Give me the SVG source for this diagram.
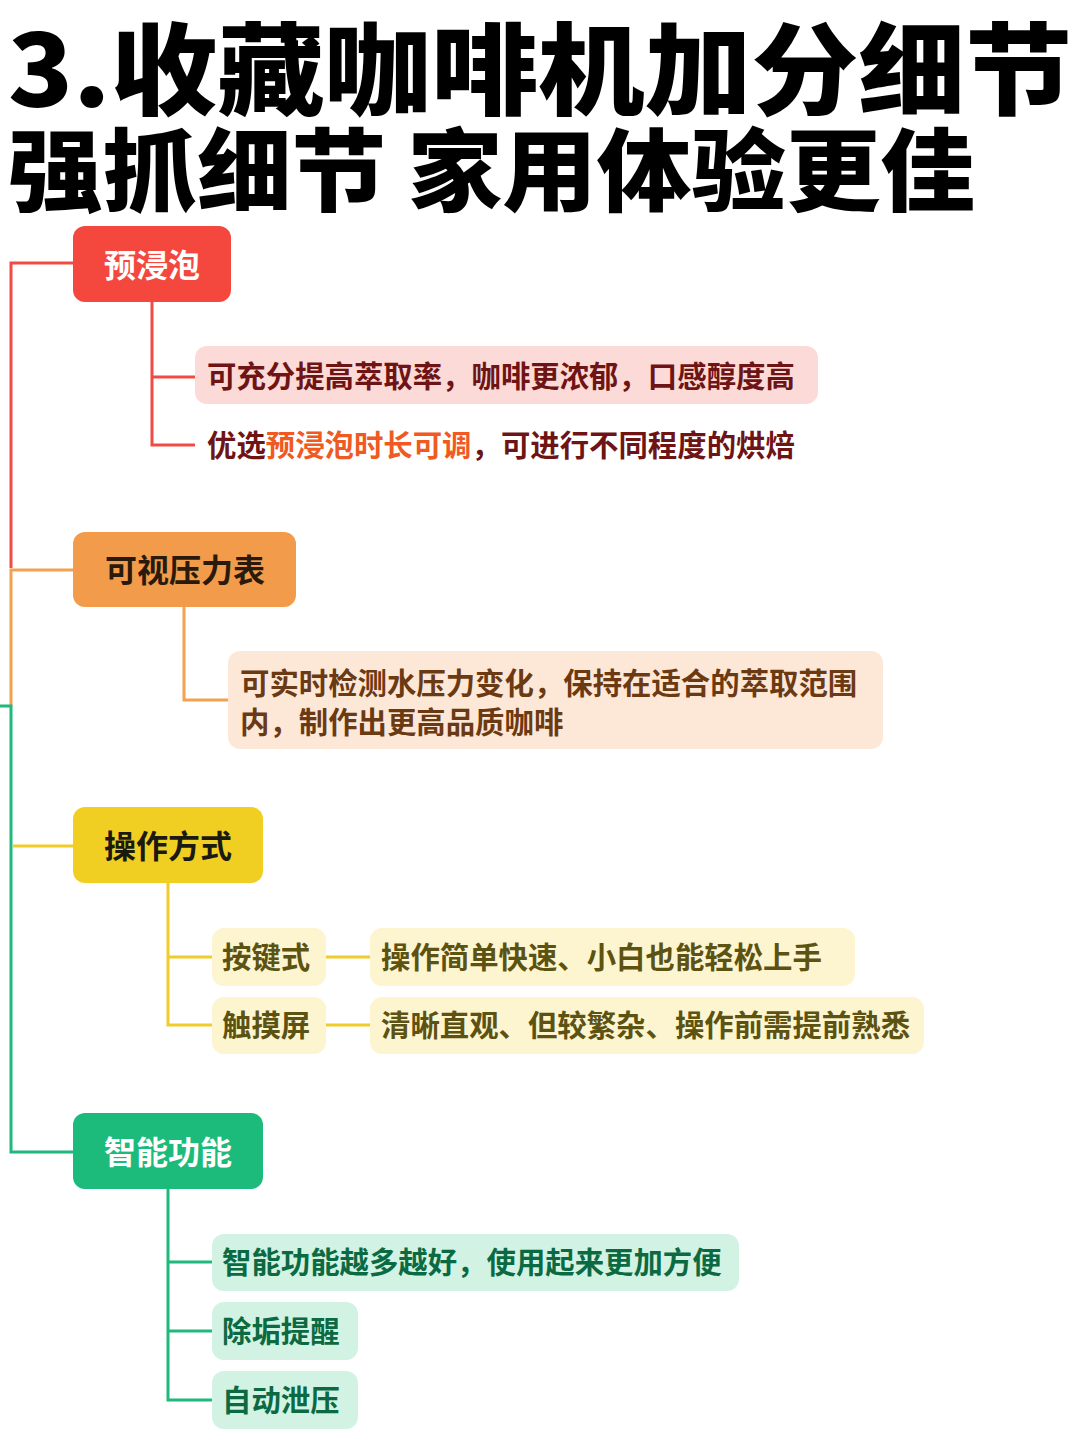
<svg xmlns="http://www.w3.org/2000/svg" width="1080" height="1440" viewBox="0 0 1080 1440">
<style>
text{font-family:"Noto Sans CJK SC","Noto Sans",sans-serif;font-weight:700}
.title{font-weight:900;fill:#000}
.node{font-size:32px}
.sub{font-size:29.4px}
.ln{fill:none;stroke-width:3}
.r{stroke:#f04c45}.o{stroke:#f2a150}.y{stroke:#f0cc2a}.g{stroke:#1fb97c}
</style>
<rect width="1080" height="1440" fill="#ffffff"/>
<g id="title">
<text class="title" x="8" y="107" font-size="100" textLength="1064" lengthAdjust="spacingAndGlyphs">3.收藏咖啡机加分细节</text>
<text class="title" x="8" y="204" font-size="90" textLength="967" lengthAdjust="spacingAndGlyphs">强抓细节 家用体验更佳</text>
</g>
<g id="connectors">
<path class="ln r" d="M73,263 H11 V568"/>
<path class="ln o" d="M73,570 H11 V706"/>
<path class="ln g" d="M0,706 H11 V1152 H73"/>
<path class="ln y" d="M13,846 H73"/>
<path class="ln r" d="M152,302 V445 H195 M152,377 H195"/>
<path class="ln o" d="M184,607 V700 H228"/>
<path class="ln y" d="M168,883 V1025 H212 M168,957 H212 M326,957 H370 M326,1025 H370"/>
<path class="ln g" d="M168,1189 V1400 H212 M168,1262 H212 M168,1331 H212"/>
</g>
<g id="n-preinfusion">
<rect x="73" y="226" width="158" height="76" rx="12" fill="#f4473d"/>
<text class="node" x="152" y="277" text-anchor="middle" fill="#ffffff">预浸泡</text>
</g>
<g id="n-preinfusion-1">
<rect x="195" y="346" width="623" height="58" rx="12" fill="#fcdad7"/>
<text class="sub" x="207" y="387" fill="#6e1414">可充分提高萃取率，咖啡更浓郁，口感醇度高</text>
</g>
<g id="n-preinfusion-2">
<text class="sub" x="207" y="456" fill="#6e1414">优选<tspan fill="#f05a22">预浸泡时长可调</tspan>，可进行不同程度的烘焙</text>
</g>
<g id="n-gauge">
<rect x="73" y="532" width="223" height="75" rx="12" fill="#f29b4a"/>
<text class="node" x="185" y="582" text-anchor="middle" fill="#2a1a0c">可视压力表</text>
</g>
<g id="n-gauge-1">
<rect x="228" y="651" width="655" height="98" rx="12" fill="#fde8d7"/>
<text class="sub" x="240" y="694" fill="#6b3a12">可实时检测水压力变化，保持在适合的萃取范围</text>
<text class="sub" x="240" y="733" fill="#6b3a12">内，制作出更高品质咖啡</text>
</g>
<g id="n-operation">
<rect x="73" y="807" width="190" height="76" rx="12" fill="#f1cf22"/>
<text class="node" x="168" y="858" text-anchor="middle" fill="#1a1a10">操作方式</text>
</g>
<g id="n-button">
<rect x="212" y="928" width="114" height="58" rx="12" fill="#fdf5cf"/>
<text class="sub" x="222" y="968" fill="#5c5212">按键式</text>
</g>
<g id="n-button-1">
<rect x="370" y="928" width="485" height="58" rx="12" fill="#fdf5cf"/>
<text class="sub" x="381" y="968" fill="#5c5212">操作简单快速、小白也能轻松上手</text>
</g>
<g id="n-touch">
<rect x="212" y="997" width="114" height="57" rx="12" fill="#fdf5cf"/>
<text class="sub" x="222" y="1036" fill="#5c5212">触摸屏</text>
</g>
<g id="n-touch-1">
<rect x="370" y="997" width="554" height="57" rx="12" fill="#fdf5cf"/>
<text class="sub" x="381" y="1036" fill="#5c5212">清晰直观、但较繁杂、操作前需提前熟悉</text>
</g>
<g id="n-smart">
<rect x="73" y="1113" width="190" height="76" rx="12" fill="#1dbb7b"/>
<text class="node" x="168" y="1164" text-anchor="middle" fill="#ffffff">智能功能</text>
</g>
<g id="n-smart-1">
<rect x="212" y="1234" width="527" height="57" rx="12" fill="#d2f3e3"/>
<text class="sub" x="222" y="1273" fill="#0c6a42">智能功能越多越好，使用起来更加方便</text>
</g>
<g id="n-smart-2">
<rect x="212" y="1302" width="146" height="58" rx="12" fill="#d2f3e3"/>
<text class="sub" x="222" y="1342" fill="#0c6a42">除垢提醒</text>
</g>
<g id="n-smart-3">
<rect x="212" y="1371" width="146" height="58" rx="12" fill="#d2f3e3"/>
<text class="sub" x="222" y="1411" fill="#0c6a42">自动泄压</text>
</g>
</svg>
